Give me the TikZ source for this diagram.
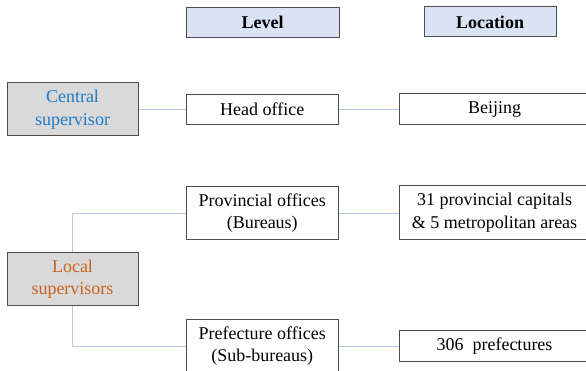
\documentclass[tikz,border=0pt]{standalone}
\usepackage{fontspec}
\setmainfont{Liberation Serif}
\definecolor{boxline}{HTML}{4D4D4D}
\definecolor{headfill}{HTML}{DAE3F3}
\definecolor{grayfill}{HTML}{D9D9D9}
\definecolor{conn}{HTML}{B4C7E7}
\definecolor{bluetxt}{HTML}{1F7BC8}
\definecolor{orangetxt}{HTML}{C8641E}
\begin{document}
\begin{tikzpicture}[x=1pt,y=-1pt,
  base/.style={draw=boxline,line width=1pt,inner sep=0pt,align=center,
    font=\rmfamily\fontsize{18}{22.5}\selectfont},
  header/.style={base,fill=headfill,font=\rmfamily\fontsize{18}{22.5}\selectfont\bfseries},
  supbox/.style={base,fill=grayfill},
  plainbox/.style={base,fill=white},
  link/.style={draw=conn,line width=1pt}]
\useasboundingbox (0,0) rectangle (586,371);
\clip (0,0) rectangle (586,371);
\node[header,minimum width=153pt,minimum height=30pt] (level) at (262.5,22.5) {Level};
\node[header,minimum width=132pt,minimum height=30pt] (loc) at (490,22) {Location};
\node[supbox,minimum width=131pt,minimum height=53pt,text=bluetxt] (central) at (72.5,109.5) {Central\\supervisor};
\node[supbox,minimum width=131pt,minimum height=53pt,text=orangetxt] (local) at (72.5,279) {Local\\supervisors};
\node[plainbox,minimum width=152.5pt,minimum height=30.5pt] (head) at (262.25,109.5) {Head office};
\node[plainbox,minimum width=191pt,minimum height=30.5pt] (beijing) at (494.5,109) {Beijing};
\node[plainbox,minimum width=152.5pt,minimum height=53.5pt] (prov) at (262.25,213.25) {Provincial offices\\(Bureaus)};
\node[plainbox,minimum width=191pt,minimum height=54pt] (capitals) at (494.5,212.5) {31 provincial capitals\\\& 5 metropolitan areas};
\node[plainbox,minimum width=152.5pt,minimum height=53.5pt] (pref) at (262.25,346.25) {Prefecture offices\\(Sub-bureaus)};
\node[plainbox,minimum width=191pt,minimum height=31pt] (prefs) at (494.5,346) {306~~prefectures};
\draw[link] (central.east) -- (head.west);
\draw[link] (head.east) -- (head.east -| beijing.west);
\draw[link] (prov.east) -- (prov.east -| capitals.west);
\draw[link] (pref.east) -- (pref.east -| prefs.west);
\draw[link] (local.north) -- (local.north |- prov.west) -- (prov.west);
\draw[link] (local.south) -- (local.south |- pref.west) -- (pref.west);
\end{tikzpicture}
\end{document}
